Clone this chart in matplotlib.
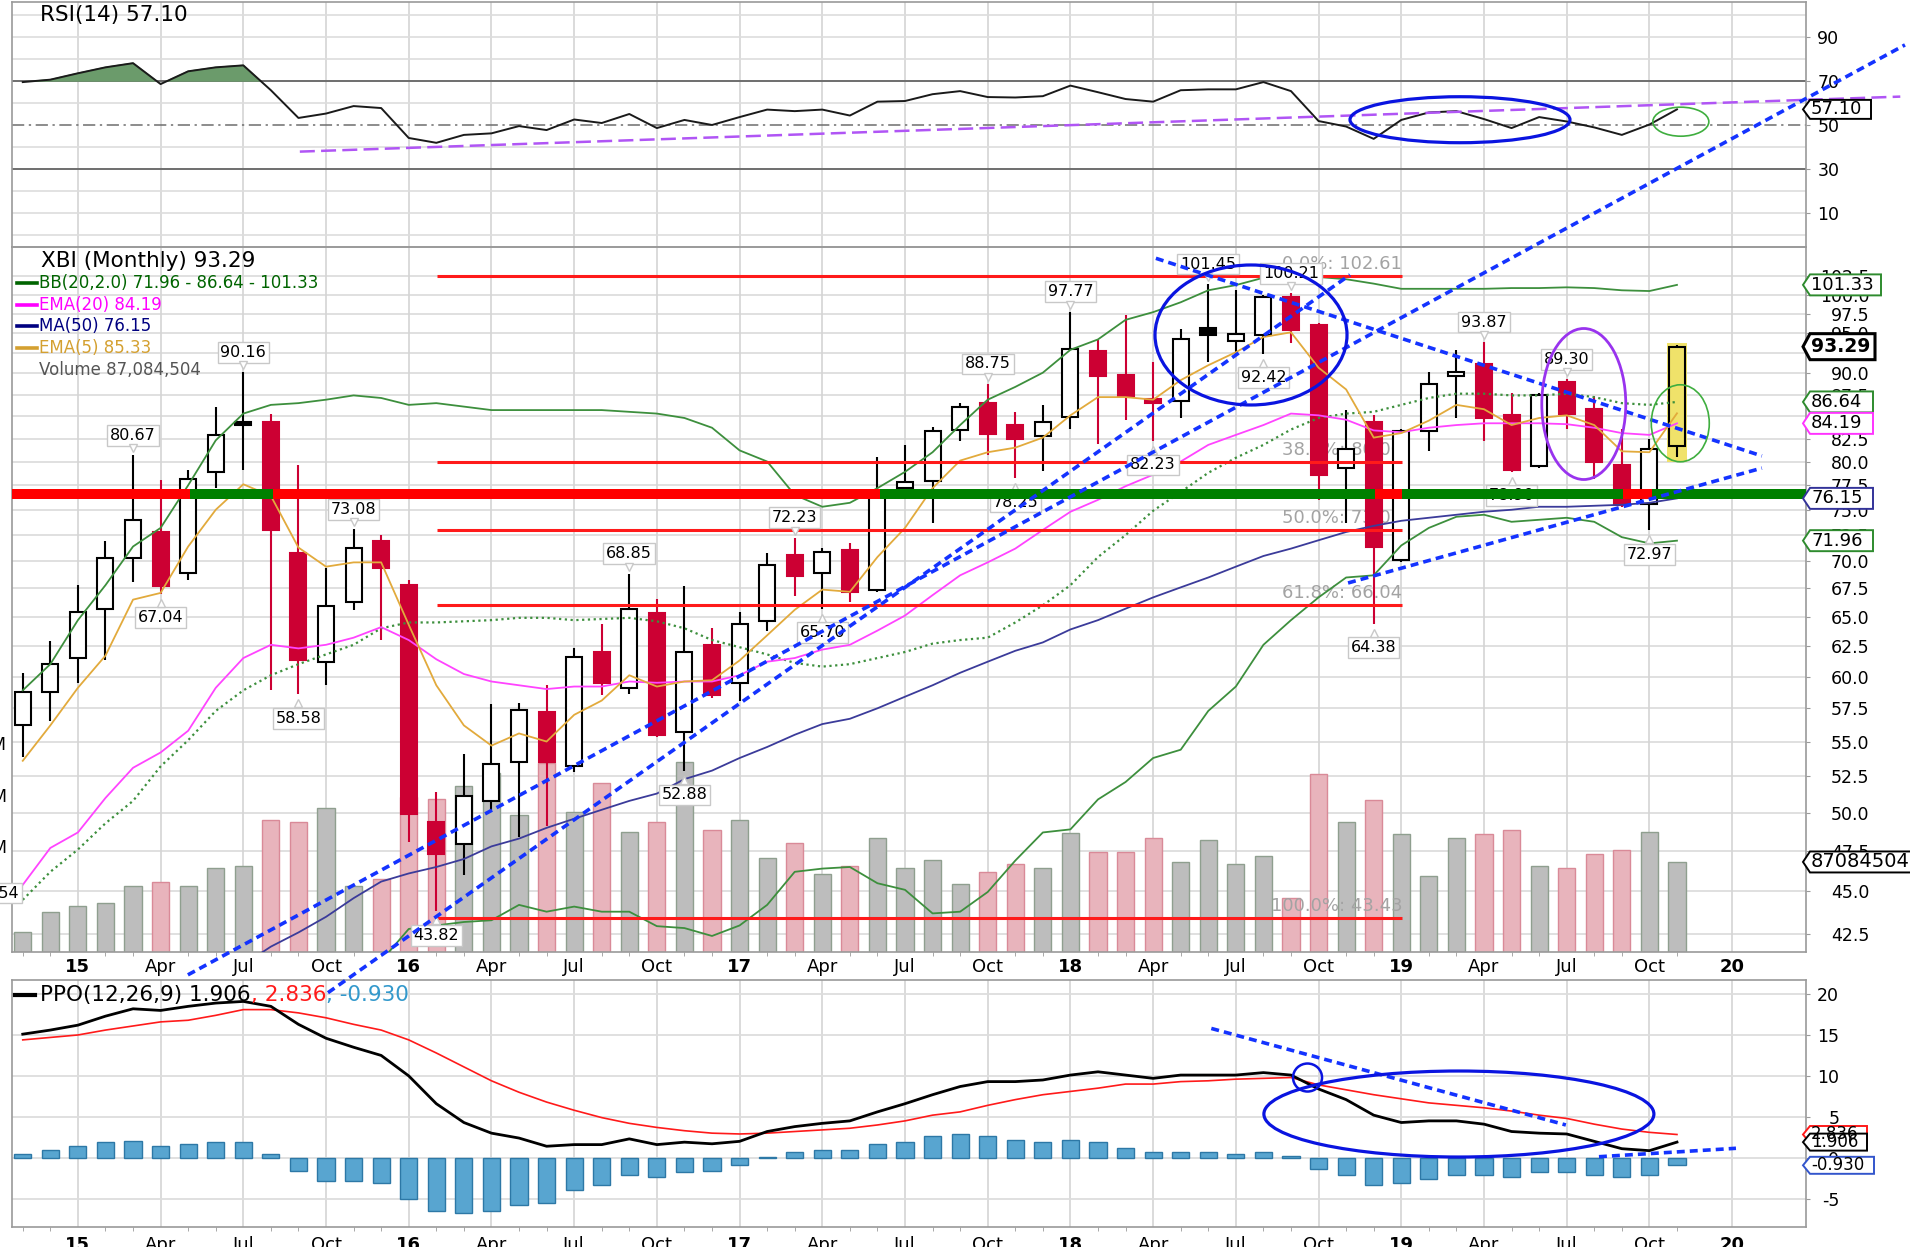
import numpy as np
import matplotlib.pyplot as plt
from matplotlib.patches import Ellipse, Polygon, Rectangle
from matplotlib.lines import Line2D
from matplotlib.transforms import Affine2D, blended_transform_factory, offset_copy
from matplotlib.ticker import NullLocator

plt.rcParams['font.family'] = 'DejaVu Sans'

# ---------------- data (monthly bars, Nov 2014 .. Nov 2019) ----------------
months = np.arange(-2, 59)          # 0 = Jan 2015
opens = [56.2, 58.8,
         61.5, 65.7, 70.3, 72.8, 68.9, 78.9, 84.4, 84.3, 70.8, 61.2, 66.3, 71.9,
         67.8, 49.4, 47.96, 50.8, 53.5, 57.2, 53.2, 62.0, 59.1, 65.3, 55.7, 62.6,
         59.5, 64.6, 70.6, 68.9, 71.1, 67.4, 77.2, 77.9, 83.4, 86.5, 84.0, 82.8,
         84.9, 92.7, 89.8, 86.95, 86.7, 95.7, 94.0, 94.8, 99.7, 96.0, 79.3, 84.4,
         70.1, 83.3, 89.7, 91.2, 85.1, 79.5, 89.0, 85.8, 79.6, 75.6, 81.7]
highs = [60.3, 62.9,
         67.8, 71.9, 80.67, 78.0, 79.1, 86.1, 90.16, 85.3, 79.6, 69.4, 73.08, 72.5,
         68.3, 51.4, 54.1, 57.8, 57.9, 59.3, 62.3, 64.4, 68.85, 66.6, 67.7, 64.0,
         65.4, 70.8, 72.23, 71.3, 71.7, 80.5, 81.8, 83.8, 86.5, 88.75, 85.5, 86.3,
         97.77, 94.1, 97.3, 91.4, 95.5, 101.45, 100.6, 100.0, 100.21, 96.3, 85.7, 85.1,
         83.6, 90.2, 92.9, 93.87, 87.7, 87.7, 89.30, 87.3, 83.6, 82.5, 93.5]
lows = [53.9, 56.5,
        59.5, 61.3, 68.1, 67.04, 68.3, 77.2, 79.1, 58.9, 58.58, 59.3, 65.6, 63.0,
        48.1, 43.82, 46.0, 50.2, 48.4, 49.1, 52.8, 58.5, 58.6, 55.3, 52.88, 58.3,
        58.1, 63.8, 66.8, 65.70, 66.3, 67.2, 76.5, 73.7, 82.2, 80.7, 78.25, 79.0,
        83.6, 81.9, 84.6, 82.23, 84.8, 91.4, 92.3, 92.42, 93.7, 76.0, 73.7, 64.38,
        69.9, 81.1, 84.8, 82.2, 78.9, 79.3, 83.6, 78.1, 75.3, 72.97, 80.5]
closes = [58.8, 61.0,
          65.4, 70.3, 74.0, 67.7, 78.1, 82.9, 84.0, 73.0, 61.3, 65.9, 71.3, 69.4,
          49.9, 47.3, 51.1, 53.4, 57.4, 53.5, 61.6, 59.5, 65.7, 55.5, 62.0, 58.5,
          64.4, 69.7, 68.6, 70.9, 67.2, 76.5, 77.8, 83.3, 86.1, 83.0, 82.5, 84.4,
          93.0, 89.7, 87.3, 86.5, 94.2, 94.8, 94.9, 99.7, 95.4, 78.6, 81.3, 71.4,
          83.3, 88.8, 90.2, 84.8, 79.1, 87.5, 85.3, 80.0, 75.5, 81.3, 93.29]
volume_m = [19.6, 39.0,
            44.8, 47.0, 63.8, 68.0, 63.8, 81.2, 83.5, 127.7, 126.0, 139.6, 63.8, 70.3,
            150.0, 147.7, 160.5, 172.8, 132.5, 183.0, 135.4, 163.0, 116.0, 126.0, 184.0, 118.0,
            127.7, 91.0, 105.0, 75.4, 83.2, 110.5, 81.5, 89.0, 65.8, 77.7, 85.0, 81.5,
            114.8, 97.0, 97.0, 110.5, 87.3, 108.3, 85.0, 92.8, 52.0, 172.0, 125.7, 147.0,
            114.0, 73.8, 110.0, 114.0, 118.0, 83.2, 81.0, 94.8, 98.6, 116.0, 87.08]

nan = np.nan
bb_upper = [58.9, 61.0,
            64.7, 67.8, 71.4, 73.2, 77.5, 82.3, 85.3, 86.3, 86.5, 86.9, 87.4, 87.1,
            86.3, 86.5, 86.1, 85.7, 85.7, 85.7, 85.7, 85.7, 85.5, 85.3, 84.8, 83.7,
            81.2, 80.0, 76.5, 75.3, 75.7, 77.2, 78.9, 81.0, 84.0, 86.9, 88.4, 90.1,
            92.9, 94.2, 96.7, 97.7, 99.0, 100.6, 101.3, 102.3, 103.1, 102.4, 102.1, 101.5,
            100.8, 100.8, 100.8, 100.8, 100.9, 100.9, 101.0, 100.9, 100.6, 100.5, 101.33]
bb_middle = [44.5, 46.2,
             47.6, 49.3, 50.8, 53.2, 55.1, 57.3, 58.9, 60.1, 61.0, 61.8, 62.6, 64.0,
             64.5, 64.5, 64.6, 64.7, 64.9, 64.9, 64.7, 64.8, 64.9, 64.6, 64.0, 63.0,
             62.4, 61.8, 61.1, 60.8, 61.0, 61.5, 62.0, 62.7, 63.0, 63.2, 64.5, 66.0,
             67.8, 70.4, 72.5, 74.9, 76.8, 78.8, 80.4, 81.8, 83.5, 84.8, 85.3, 85.5,
             86.3, 87.1, 87.6, 87.6, 87.4, 87.4, 87.6, 87.2, 86.5, 86.3, 86.64]
bb_lower = [nan, nan,
            nan, nan, nan, nan, nan, nan, nan, nan, nan, nan, nan, 41.0,
            42.8, 43.0, 43.2, 43.3, 44.2, 43.8, 44.1, 43.8, 43.8, 42.96, 42.85, 42.4,
            43.0, 44.2, 46.2, 46.4, 46.5, 45.5, 45.1, 43.7, 43.8, 44.97, 46.9, 48.7,
            48.9, 50.9, 52.1, 53.8, 54.4, 57.3, 59.2, 62.6, 64.7, 66.7, 68.5, 68.7,
            71.5, 73.2, 74.3, 74.5, 73.8, 74.0, 74.2, 73.8, 72.3, 71.7, 71.96]
ema20 = [45.4, 47.7,
         48.7, 51.0, 53.1, 54.2, 55.8, 59.1, 61.5, 62.6, 62.3, 62.6, 63.2, 64.1,
         63.0, 61.4, 60.2, 59.6, 59.3, 59.0, 59.2, 59.2, 59.6, 59.5, 59.6, 59.6,
         60.1, 61.2, 61.5, 62.2, 62.6, 63.8, 65.1, 66.9, 68.7, 69.9, 71.2, 73.0,
         74.8, 76.0, 77.4, 78.6, 80.0, 81.8, 82.9, 84.0, 85.3, 85.1, 84.6, 83.4,
         83.2, 83.7, 84.0, 84.2, 84.2, 84.2, 84.1, 83.7, 83.1, 82.9, 84.19]
ma50 = [nan, nan,
        nan, nan, nan, nan, nan, nan, 40.8, 41.8, 42.6, 43.5, 44.6, 45.6,
        46.1, 46.5, 47.0, 47.8, 48.3, 49.0, 49.6, 50.2, 50.8, 51.3, 52.3, 52.9,
        53.8, 54.6, 55.5, 56.3, 56.7, 57.5, 58.4, 59.3, 60.3, 61.2, 62.1, 62.8,
        63.9, 64.7, 65.7, 66.7, 67.6, 68.5, 69.5, 70.5, 71.2, 72.0, 72.8, 73.4,
        73.9, 74.2, 74.5, 74.8, 75.0, 75.3, 75.3, 75.4, 75.5, 75.7, 76.15]
ema5 = [53.6, 56.2,
        59.1, 61.7, 66.5, 67.1, 71.4, 75.0, 77.6, 76.4, 71.3, 69.5, 69.9, 69.9,
        64.3, 59.3, 56.2, 54.7, 55.6, 55.0, 57.0, 58.1, 60.1, 59.2, 59.6, 59.7,
        61.3, 63.4, 65.6, 67.4, 67.2, 70.4, 73.2, 77.2, 80.1, 81.0, 81.5, 82.6,
        85.1, 87.2, 87.2, 86.9, 89.2, 91.0, 92.6, 94.5, 95.1, 90.7, 88.1, 82.6,
        83.1, 84.5, 86.3, 85.8, 84.0, 84.8, 85.1, 84.0, 81.1, 81.0, 85.33]
rsi = [69.5, 70.6,
       73.5, 76.2, 78.1, 68.6, 74.4, 76.2, 77.1, 65.8, 53.2, 55.2, 58.6, 57.7,
       44.1, 41.9, 45.5, 46.2, 49.5, 47.7, 52.5, 50.9, 55.0, 48.6, 52.3, 50.0,
       53.6, 57.0, 56.3, 57.0, 54.3, 60.6, 60.9, 64.0, 65.4, 62.7, 62.5, 63.1,
       67.9, 64.9, 61.8, 60.6, 65.8, 66.2, 66.2, 69.5, 65.4, 51.8, 49.3, 43.7,
       52.3, 55.7, 56.3, 52.7, 48.6, 53.6, 51.6, 48.9, 45.5, 50.2, 57.1]
ppo = [15.1, 15.6,
       16.2, 17.3, 18.2, 18.0, 18.5, 18.9, 19.1, 18.5, 16.3, 14.6, 13.5, 12.5,
       10.0, 6.6, 4.3, 3.0, 2.4, 1.4, 1.6, 1.6, 2.3, 1.6, 1.9, 1.7,
       2.0, 3.2, 3.8, 4.2, 4.5, 5.6, 6.6, 7.7, 8.7, 9.3, 9.3, 9.5,
       10.1, 10.5, 10.1, 9.7, 10.1, 10.1, 10.1, 10.4, 10.1, 8.4, 7.1, 5.2,
       4.3, 4.5, 4.5, 4.1, 3.2, 3.0, 2.9, 2.0, 1.1, 0.86, 1.906]
ppo_signal = [14.4, 14.7,
              15.0, 15.6, 16.1, 16.6, 16.8, 17.4, 18.1, 18.1, 17.7, 17.1, 16.3, 15.6,
              14.4, 12.8, 11.1, 9.4, 8.0, 6.8, 5.8, 4.9, 4.2, 3.7, 3.3, 3.0,
              2.9, 3.0, 3.2, 3.4, 3.6, 4.0, 4.5, 5.2, 5.6, 6.4, 7.1, 7.7,
              8.1, 8.5, 9.0, 9.0, 9.3, 9.4, 9.6, 9.7, 9.8, 8.9, 8.3, 7.7,
              7.2, 6.7, 6.4, 6.1, 5.7, 5.2, 4.8, 4.1, 3.5, 3.1, 2.836]
ppo_hist = [0.45, 0.94,
            1.43, 1.9, 2.1, 1.43, 1.67, 1.9, 1.9, 0.45, -1.6, -2.8, -2.8, -3.05,
            -5.0, -6.5, -6.8, -6.5, -5.8, -5.5, -4.0, -3.3, -2.1, -2.3, -1.8, -1.6,
            -0.9, 0.12, 0.65, 0.94, 0.94, 1.67, 1.9, 2.65, 2.9, 2.65, 2.16, 1.9,
            2.16, 1.9, 1.14, 0.65, 0.65, 0.65, 0.45, 0.65, 0.2, -1.4, -2.1, -3.3,
            -3.05, -2.6, -2.1, -2.1, -2.3, -1.75, -1.8, -2.1, -2.4, -2.1, -0.93]

tick_pos = np.arange(0, 61, 3)
tick_labels = ['15', 'Apr', 'Jul', 'Oct', '16', 'Apr', 'Jul', 'Oct', '17', 'Apr', 'Jul', 'Oct',
               '18', 'Apr', 'Jul', 'Oct', '19', 'Apr', 'Jul', 'Oct', '20']
price_ticks = np.arange(42.5, 103.0, 2.5)

# swing high / low labels: (month, price, 'h' above or 'l' below)
price_labels = [(2, 80.67, 'h'), (3, 67.04, 'l'), (6, 90.16, 'h'), (8, 58.58, 'l'),
                (10, 73.08, 'h'), (13, 43.82, 'l'), (20, 68.85, 'h'), (22, 52.88, 'l'),
                (26, 72.23, 'h'), (27, 65.70, 'l'), (33, 88.75, 'h'), (34, 78.25, 'l'),
                (36, 97.77, 'h'), (39, 82.23, 'l'), (41, 101.45, 'h'), (44, 100.21, 'h'),
                (43, 92.42, 'l'), (47, 64.38, 'l'), (51, 93.87, 'h'), (52, 78.90, 'l'),
                (54, 89.30, 'h'), (57, 72.97, 'l')]

# Fibonacci retracement drawn by the chartist
fib_levels = [102.61, 80.00, 73.02, 66.04, 43.43]
fib_names = ['0.0%', '38.2%', '50.0%', '61.8%', '100.0%']
fib_start, fib_end = 13.04, 48.04

# thick support line, coloured segments (month breakpoints)
support_level = 76.6
support_breaks = [-2.39, 4.06, 7.09, 29.1, 47.04, 48.04, 56.06, 57.08, 62.68]
support_colors = ['#ff0000', '#008000', '#ff0000', '#008000', '#ff0000', '#008000', '#ff0000', '#008000']

# trend lines (month, value) pairs
trend_main = [((3.99, 40.25), (66.27, 139.7)), ((9.07, 39.3), (46.14, 102.7)),
              ((39.1, 105.0), (61.08, 80.6)), ((46.07, 68.0), (61.08, 79.3))]
trend_ppo = [((41.11, 15.8), (53.97, 4.0)), ((55.17, 0.12), (60.14, 1.15))]
trend_rsi = ((8.05, 37.9), (66.1, 62.9))

# ---------------- figure layout (pixel geometry of the original) ----------------
W, H = 1910, 1247
fig = plt.figure(figsize=(W / 100, H / 100), dpi=100)


def rect(x0, y0, x1, y1):
    return [x0 / W, 1 - y1 / H, (x1 - x0) / W, (y1 - y0) / H]


XL, XR = 12, 1806
XLIM = (-2.39, 62.68)
ax_rsi = fig.add_axes(rect(XL, 2, XR, 247))
ax_vol = fig.add_axes(rect(XL, 247, XR, 952))
ax = fig.add_axes(rect(XL, 247, XR, 952))
ax_ppo = fig.add_axes(rect(XL, 980, XR, 1227))
ax_vol.set_zorder(1)
ax_rsi.set_zorder(2)
ax_ppo.set_zorder(2)
ax.set_zorder(3)
ax.patch.set_visible(False)

GRID = '#dddddd'
SPINE = '#9a9a9a'
RED = '#cc0033'
for a in (ax_rsi, ax_vol, ax, ax_ppo):
    a.set_xlim(XLIM)
    for s in a.spines.values():
        s.set_color(SPINE)
        s.set_linewidth(1.2)
for s in ax_vol.spines.values():
    s.set_visible(False)

ax.set_yscale('log')
ax.set_ylim(41.5, 106.6)
ax_vol.set_ylim(0, 681.8)
ax_rsi.set_ylim(-5.45, 105.9)
ax_ppo.set_ylim(-8.47, 21.72)

# ---------------- grids ----------------
htrans = blended_transform_factory(ax_vol.transAxes, ax.transData)
for p in price_ticks:
    ax_vol.plot([0, 1], [p, p], transform=htrans, color=GRID, lw=1.3, zorder=0)
ax_vol.set_ylim(0, 681.8)
for a in (ax_vol, ax_rsi, ax_ppo):
    for q in tick_pos:
        a.axvline(q, color='#d4d4d4', lw=1.2, zorder=0)
for r in range(0, 101, 10):
    if r not in (30, 50, 70):
        ax_rsi.axhline(r, color=GRID, lw=1.2, zorder=0)
ax_rsi.axhline(70, color='#6e6e6e', lw=1.4, zorder=1)
ax_rsi.axhline(30, color='#6e6e6e', lw=1.4, zorder=1)
ax_rsi.axhline(50, color='#6e6e6e', lw=1.1, ls=(0, (8, 3, 1.5, 3)), zorder=1)
for v in (-5, 0, 5, 10, 15, 20):
    ax_ppo.axhline(v, color=GRID, lw=1.3, zorder=0)

# ---------------- volume ----------------
prev_close = [closes[0]] + closes[:-1]
up = [c >= pc for c, pc in zip(closes, prev_close)]
ax_vol.bar(months, volume_m, width=0.62,
           color=['#bdbdbd' if u else '#e8b4bc' for u in up],
           edgecolor=['#8f9f8f' if u else '#d98a98' for u in up], lw=1.0, zorder=2)

# ---------------- candles ----------------
highlight_month = 58
hl_i = list(months).index(highlight_month)
ax.add_patch(Rectangle((highlight_month - 0.37, lows[hl_i] - 0.5), 0.74,
                       highs[hl_i] - lows[hl_i] + 0.7, facecolor='#f0e26a', edgecolor='none', zorder=2))
for m, o, h, l, c, u in zip(months, opens, highs, lows, closes, up):
    col = 'black' if u else RED
    lo, hi = min(o, c), max(o, c)
    ax.vlines(m, hi, h, color=col, lw=1.5, zorder=3)
    ax.vlines(m, l, lo, color=col, lw=1.5, zorder=3)
    if c > o:
        face = '#f0e26a' if m == highlight_month else 'white'
    else:
        face = col
    ax.bar(m, hi - lo, bottom=lo, width=0.58, facecolor=face, edgecolor=col, lw=1.5, zorder=4)

# ---------------- overlays ----------------
ax.plot(months, bb_upper, color='#3d8f3d', lw=1.3, zorder=5)
ax.plot(months, bb_lower, color='#3d8f3d', lw=1.3, zorder=5)
ax.plot(months, bb_middle, color='#3d8f3d', lw=1.6, ls=(0, (1, 1.6)), zorder=5)
ax.plot(months, ema20, color='#ff44ff', lw=1.3, zorder=5)
ax.plot(months, ma50, color='#3b3b9a', lw=1.3, zorder=5)
ax.plot(months, ema5, color='#e2aa3c', lw=1.3, zorder=5)

for lvl, name in zip(fib_levels, fib_names):
    ax.plot([fib_start, fib_end], [lvl, lvl], color='#ff1a1a', lw=2.2, zorder=5.5, solid_capstyle='butt')
    ax.annotate(f'{name}: {lvl:.2f}', xy=(fib_end, lvl), xytext=(0, 3), textcoords='offset pixels',
                ha='right', va='bottom', color='#a3a3a3', fontsize=13, zorder=2.5)

for m, p, kind in price_labels:
    off = 20 if kind == 'h' else -24
    ax.annotate(f'{p:.2f}', xy=(m, p), xytext=(0, off), textcoords='offset pixels',
                ha='center', va='center', fontsize=11.5, zorder=6,
                bbox=dict(boxstyle='square,pad=0.18', fc='white', ec='#c8c8c8', lw=1))
    # little pointer under / over the box
    tip = offset_copy(ax.transData, fig=fig, x=0, y=(7 if kind == 'h' else -9), units='dots')
    ax.plot(m, p, marker='v' if kind == 'h' else '^', ms=6, mfc='white', mec='#c8c8c8',
            mew=1, transform=tip, zorder=6.1)

for x0, x1, col in zip(support_breaks[:-1], support_breaks[1:], support_colors):
    ax.plot([x0, x1], [support_level, support_level], color=col, lw=7.2,
            solid_capstyle='butt', zorder=7)

BLUE = '#1433ff'
for (x0, y0), (x1, y1) in trend_main:
    ax.plot([x0, x1], [y0, y1], color=BLUE, lw=2.6, ls=(0, (2.2, 1.4)), zorder=8, clip_on=False)
for (x0, y0), (x1, y1) in trend_ppo:
    ax_ppo.plot([x0, x1], [y0, y1], color=BLUE, lw=2.6, ls=(0, (2.2, 1.4)), zorder=8, clip_on=False)

# ---------------- RSI ----------------
rsi_arr = np.array(rsi)
ax_rsi.fill_between(months, rsi_arr, 70, where=rsi_arr > 70, interpolate=True,
                    color='#6b9b6b', zorder=2)
ax_rsi.plot(months, rsi, color='#1a1a1a', lw=1.4, zorder=3)
(rx0, ry0), (rx1, ry1) = trend_rsi
ax_rsi.plot([rx0, rx1], [ry0, ry1], color='#b055f5', lw=1.8, ls=(0, (6, 2.5)), zorder=4, clip_on=False)

# ---------------- PPO ----------------
ax_ppo.bar(months, ppo_hist, width=0.62, color='#58a5d0', edgecolor='#2d78a6', lw=1.0, zorder=2)
ax_ppo.plot(months, ppo_signal, color='#ff1a1a', lw=1.2, zorder=3)
ax_ppo.plot(months, ppo, color='black', lw=2.0, zorder=4)

# ---------------- axes ticks ----------------
ax_vol.set_xticks([])
ax_vol.set_yticks([])
ax_rsi.set_xticks([])
for a, pad in ((ax, 4.5), (ax_ppo, 6.5)):
    a.set_xticks(tick_pos)
    a.set_xticklabels(tick_labels)
    a.set_xticks(months, minor=True)
    a.tick_params(axis='x', which='major', length=0, pad=pad, labelsize=13)
    a.tick_params(axis='x', which='minor', length=3, color=SPINE)
    for lab in a.get_xticklabels():
        if lab.get_text().isdigit():
            lab.set_fontweight('bold')

ax.yaxis.tick_right()
ax.set_yticks(price_ticks)
ax.set_yticklabels([f'{t:.1f}' for t in price_ticks])
ax.yaxis.set_minor_locator(NullLocator())
ax.tick_params(axis='y', which='major', length=3, color=SPINE, pad=42.5, labelsize=12.5)
for lab in ax.get_yticklabels():
    lab.set_horizontalalignment('right')

for a, ticks in ((ax_rsi, [10, 30, 50, 70, 90]), (ax_ppo, [-5, 0, 5, 10, 15, 20])):
    a.yaxis.tick_right()
    a.set_yticks(ticks)
    a.set_yticklabels([str(t) for t in ticks])
    a.tick_params(axis='y', length=3, color=SPINE, pad=20.9, labelsize=12.5)
    for lab in a.get_yticklabels():
        lab.set_horizontalalignment('right')

# ---------------- annotation ellipses (sizes in pixels) ----------------
def ring(axis, xm, yv, w, h, color, lw):
    cx, cy = axis.transData.transform((xm, yv))
    axis.add_artist(Ellipse((0, 0), w, h, fill=False, ec=color, lw=lw,
                            transform=Affine2D().translate(cx, cy), clip_on=False, zorder=9))


ring(ax_rsi, 50.13, 52.4, 220, 46, '#0a14e0', 2.3)
ring(ax_rsi, 58.14, 51.5, 56, 29, '#3fae3f', 1.2)
ring(ax, 42.55, 94.76, 192, 140, '#0a14e0', 2.3)
ring(ax, 54.62, 86.4, 84, 151, '#9933ee', 2.0)
ring(ax, 58.12, 84.2, 58, 77, '#3fae3f', 1.2)
ring(ax_ppo, 44.6, 9.8, 29, 28, '#0a14e0', 1.8)
ring(ax_ppo, 50.09, 5.34, 390, 86, '#0a14e0', 2.3)

# ---------------- value tags on the right ----------------
def value_tag(axis, val, text, edge, fs=13, bold=False, h=21, w=78, lw=1.4):
    yd = axis.transData.transform((0, val))[1]
    x0 = 1803
    pts = [(x0, yd), (x0 + 7, yd + h / 2), (x0 + w, yd + h / 2), (x0 + w, yd - h / 2), (x0 + 7, yd - h / 2)]
    fig.add_artist(Polygon([(px / W, py / H) for px, py in pts], closed=True,
                           transform=fig.transFigure, fc='white', ec=edge, lw=lw, zorder=20))
    fig.text((x0 + 8) / W, yd / H, text, ha='left', va='center', fontsize=fs,
             fontweight='bold' if bold else 'normal', zorder=21)


value_tag(ax_rsi, 57.10, '57.10', 'black', h=19, w=68)
value_tag(ax, 101.33, '101.33', '#2e8b2e')
value_tag(ax, 86.64, '86.64', '#2e8b2e', w=70)
value_tag(ax, 84.19, '84.19', '#ff33ff', w=70)
value_tag(ax, 76.15, '76.15', '#333399', w=70)
value_tag(ax, 71.96, '71.96', '#2e8b2e', w=70)
value_tag(ax, 93.29, '93.29', 'black', fs=13.5, bold=True, h=26, w=72, lw=2.2)
value_tag(ax_vol, 87.084504, '87084504', 'black', fs=14, w=130)
value_tag(ax_ppo, 2.836, '2.836', '#ff1a1a', fs=12, h=17, w=64)
value_tag(ax_ppo, 1.906, '1.906', 'black', fs=12, h=17, w=64)
value_tag(ax_ppo, -0.930, '-0.930', '#3355cc', fs=12, h=17, w=71)

# ---------------- legends / titles ----------------
def ftext(x, y, s, **kw):
    return fig.text(x / W, 1 - y / H, s, va='center', zorder=15, **kw)


def fmark(x0, x1, y, color, lw=2.6):
    fig.add_artist(Line2D([x0 / W, x1 / W], [1 - y / H, 1 - y / H], color=color, lw=lw, zorder=15))


ftext(40, 15, 'RSI(14) 57.10', fontsize=15.5)
ftext(41, 261, 'XBI (Monthly) 93.29', fontsize=15.5)
legend_rows = [('BB(20,2.0) 71.96 - 86.64 - 101.33', '#006400', '#006400'),
               ('EMA(20) 84.19', '#ff00ff', '#ff00ff'),
               ('MA(50) 76.15', '#000080', '#000080'),
               ('EMA(5) 85.33', '#d4a030', '#d4a030')]
for i, (txt, col, mcol) in enumerate(legend_rows):
    y = 283 + i * 21.7
    fmark(17, 37, y, mcol)
    ftext(39, y, txt, color=col, fontsize=12)
ftext(39, 370, 'Volume 87,084,504', color='#555555', fontsize=12)

fmark(15, 35, 995, 'black', lw=3)
renderer = fig.canvas.get_renderer()
xcur = 40
for part, col in (('PPO(12,26,9) 1.906', 'black'), (', 2.836', '#ff1a1a'), (', -0.930', '#3399cc')):
    t = ftext(xcur, 995, part, color=col, fontsize=15.5)
    xcur += t.get_window_extent(renderer).width

# clipped pieces at the very left edge
for y, s in ((745, '200M'), (797, '150M'), (848, '100M')):
    ftext(7, y, s, ha='right', fontsize=12)
ftext(19, 893, '45.54', ha='right', fontsize=11.5,
      bbox=dict(boxstyle='square,pad=0.18', fc='white', ec='#c8c8c8', lw=1))

fig.savefig('out.png', dpi=100, facecolor='white')
